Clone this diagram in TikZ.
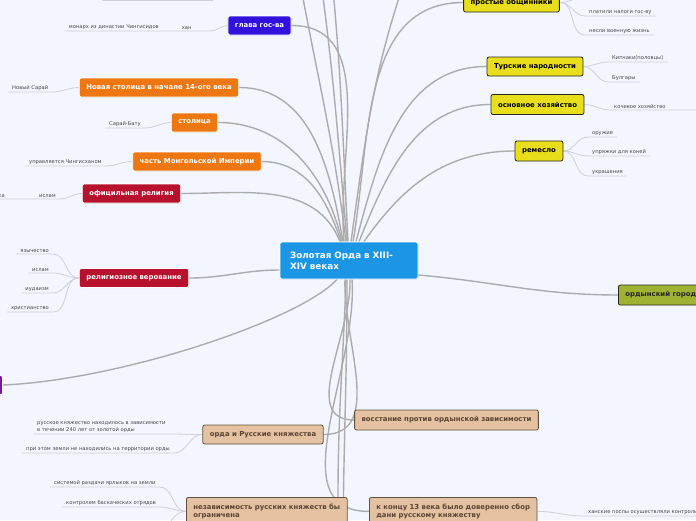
\documentclass[tikz,border=0pt]{standalone}
\usepackage{fontspec}
\setmainfont{DejaVu Sans}
\usetikzlibrary{shadows}

\definecolor{hintergrund}{RGB}{243,246,254}
\definecolor{kernblau}{RGB}{27,150,229}
\definecolor{violett}{RGB}{51,17,221}
\definecolor{orangeton}{RGB}{238,119,17}
\definecolor{karmin}{RGB}{183,17,45}
\definecolor{lila}{RGB}{120,20,160}
\definecolor{braunfill}{RGB}{228,193,160}
\definecolor{braunrand}{RGB}{95,80,65}
\definecolor{brauntext}{RGB}{90,68,52}
\definecolor{gelbfill}{RGB}{232,222,28}
\definecolor{gelbrand}{RGB}{40,40,30}
\definecolor{olivfill}{RGB}{160,178,50}
\definecolor{astgrau}{RGB}{172,172,172}
\definecolor{zweiggrau}{RGB}{205,208,216}
\definecolor{blatttext}{RGB}{70,70,70}

\pgfdeclarelayer{hinten}
\pgfsetlayers{hinten,main}

\begin{document}
\begin{tikzpicture}[x=1pt, y=1pt]

    % --- Grundeinstellungen für Styles ---
    \tikzset{
        thema/.style={rounded corners=2pt, minimum height=19pt, inner xsep=7pt, inner ysep=0pt, line width=0.8pt, font=\fontsize{6.9}{8.2}\selectfont\bfseries, align=center},
        hell/.style={thema, draw=white, text=white, drop shadow={opacity=0.18, shadow xshift=0.7pt, shadow yshift=-0.7pt}},
        wurzel/.style={hell, fill=kernblau, minimum height=37pt, text width=118pt, inner xsep=10pt, align=left, font=\fontsize{8.8}{11}\selectfont\bfseries},
        violettbox/.style={hell, fill=violett},
        orangebox/.style={hell, fill=orangeton},
        karminbox/.style={hell, fill=karmin},
        lilabox/.style={hell, fill=lila},
        braunbox/.style={thema, draw=braunrand, fill=braunfill, text=brauntext},
        gelbbox/.style={thema, draw=gelbrand, fill=gelbfill, text=black},
        olivbox/.style={thema, draw=gelbrand, fill=olivfill, text=black!85},
        blatt/.style={font=\fontsize{5.2}{6.3}\selectfont, text=blatttext, inner xsep=4pt, inner ysep=1.6pt, anchor=south west, align=left},
        ast/.style={draw=astgrau, line width=1.4pt},
        zweig/.style={draw=zweiggrau, line width=0.8pt}
    }

    \useasboundingbox (0,-520) rectangle (696,0);

    % --- 1. Zentrum ---
    \node[wurzel] (root) at (349,-260.5) {Золотая Орда в XIII-\\XIV веках};

    % --- 2. Linke Themen ---
    \node[violettbox] (glava) at (259.5,-25.5) {глава гос-ва};
    \node[orangebox] (novaya) at (159,-87.5) {Новая столица в начале 14-ого века};
    \node[orangebox] (stolica) at (194.5,-122.5) {столица};
    \node[orangebox] (chast) at (197,-161.5) {часть Монгольской Империи};
    \node[karminbox] (oficial) at (131.5,-193.5) {официльная религия};
    \node[karminbox] (verovanie) at (134,-278) {религиозное верование};
    \node[lilabox, anchor=east, minimum width=40pt] (lilaknoten) at (3,-385) {};

    % untere Themen (braun)
    \node[braunbox] (orda) at (263,-434.5) {орда и Русские княжества};
    \node[braunbox, anchor=north west, minimum height=28pt, align=left] (nezav) at (186,-497) {независимость русских княжеств бы\\ограничена};
    \node[braunbox, minimum height=20pt] (vosstanie) at (446.5,-420) {восстание против ордынской зависимости};
    \node[braunbox, anchor=north west, minimum height=28pt, align=left] (konec) at (369,-497) {к концу 13 века было доверенно сбор\\дани русскому княжеству};

    % --- 3. Rechte Themen ---
    \node[gelbbox] (obshch) at (511.5,-2.5) {простые общинники};
    \node[gelbbox] (tyurk) at (535,-66.5) {Турские народности};
    \node[gelbbox, minimum height=20pt] (hozyaystvo) at (537.5,-104.5) {основное хозяйство};
    \node[gelbbox, minimum height=20pt] (remeslo) at (539,-151) {ремесло};
    \node[olivbox, anchor=west, minimum height=20pt, minimum width=100pt, align=left] (gorod) at (618,-295) {ордынский город\hspace{24pt}};

    % --- 4. Blätter ---
    \node[blatt, minimum width=47pt, align=center] (khan) at (163,-31) {хан};
    \node[blatt, anchor=south east] (monarh) at (khan.south west) {монарх из династии Чингисидов};
    \node[blatt] (novsaray) at (8,-92) {Новый Сарай};
    \node[blatt] (saraybatu) at (105,-128) {Сарай-Бату};
    \node[blatt] (upravl) at (25,-166) {управляется Чингисханом};
    \node[blatt, anchor=south east] (islam1) at (60,-199) {ислам};
    \node[blatt, anchor=south east] (ka) at (9,-199) {ка};

    \node[blatt, anchor=south east] (yazych) at (53,-254) {язычество};
    \node[blatt, anchor=south east] (islam2) at (53,-273) {ислам};
    \node[blatt, anchor=south east] (iudaizm) at (53,-293) {иудаизм};
    \node[blatt, anchor=south east] (hristian) at (53,-312) {христианство};

    \node[blatt] (zavisim) at (33,-434) {русское княжество находилось в зависимости\\в течении 240 лет от золотой орды};
    \node[blatt] (zemli) at (22,-453) {при этом земли не находились на территории орды};
    \node[blatt] (yarlyki) at (50,-487) {системой раздачи ярлыков на земли};
    \node[blatt] (baskaki) at (62,-507) {контролем баскаческих отрядов};

    \node[blatt] (nalogi) at (585,-16) {платили налоги гос-ву};
    \node[blatt] (voennaya) at (585,-35) {несли военную жизнь};
    \node[blatt] (kipchaki) at (608,-62) {Кипчаки(половцы)};
    \node[blatt] (bulgary) at (608,-82) {Булгары};
    \node[blatt] (kochevoe) at (610,-110) {кочевое хозяйство};
    \node[blatt] (oruzhie) at (588,-137) {оружие};
    \node[blatt] (upryazhki) at (588,-156) {упряжки для коней};
    \node[blatt] (ukrasheniya) at (588,-176) {украшения};
    \node[blatt] (posly) at (584,-516) {ханские послы осуществляли контроль};

    % freie Enden ausserhalb des Bildes
    \coordinate (obenA) at (296,40);
    \coordinate (obenB) at (318,40);
    \coordinate (obenC) at (330,40);
    \coordinate (obenD) at (412,40);
    \coordinate (untenA) at (343,-560);
    \coordinate (untenB) at (150,-540);
    \coordinate (obshchOben) at (600,10);
    \coordinate (kochevEnde) at (710,-110);
    \coordinate (poslyEnde) at (710,-516);
    \coordinate (randLinks) at (-5,-199);
    \coordinate (streifA) at (213,-0.6);
    \coordinate (streifB) at (102,-0.6);

    % --- 5. Verbindungen (hinter den Knoten) ---
    \begin{pgfonlayer}{hinten}
        \fill[hintergrund] (0,-520) rectangle (696,0);

        % Äste nach oben links
        \draw[ast] ([xshift=-5pt]root.north) to[out=95, in=0] (glava.east);
        \draw[ast] ([xshift=-3pt]root.north) to[out=97, in=-80] (obenA);
        \draw[ast] ([xshift=-2pt]root.north) to[out=95, in=-82] (obenB);
        \draw[ast] ([xshift=-1pt]root.north) to[out=93, in=-84] (obenC);
        \draw[ast] ([xshift=-9pt]root.north) to[out=112, in=0] (oficial.east);
        \draw[ast] ([xshift=-8pt]root.north) to[out=108, in=0] (chast.east);
        \draw[ast] ([xshift=-7pt]root.north) to[out=103, in=0] (stolica.east);
        \draw[ast] ([xshift=-6pt]root.north) to[out=100, in=0] (novaya.east);

        % Äste nach oben rechts
        \draw[ast] ([xshift=2pt]root.north) to[out=82, in=-110] (obenD);
        \draw[ast] ([xshift=4pt]root.north) to[out=80, in=180] (obshch.west);
        \draw[ast] ([xshift=7pt]root.north) to[out=75, in=180] (tyurk.west);
        \draw[ast] ([xshift=10pt]root.north) to[out=68, in=180] (hozyaystvo.west);
        \draw[ast] ([xshift=15pt]root.north) to[out=55, in=180] (remeslo.west);

        % Äste seitlich
        \draw[ast] ([yshift=-9.5pt]root.west) to[out=180, in=0] (verovanie.east);
        \draw[ast] ([yshift=-14.5pt]root.east) to[out=-5, in=180] (gorod.west);
        \draw[ast] ([xshift=-12pt]root.south) .. controls (300,-320) and (120,-380) .. (lilaknoten.east);

        % Äste nach unten
        \draw[ast] ([xshift=-4pt]root.south) to[out=268, in=0] (orda.east);
        \draw[ast] ([xshift=-3pt]root.south) to[out=268, in=90] ([xshift=152pt]nezav.north west);
        \draw[ast] ([xshift=-2pt]root.south) to[out=270, in=90] (untenA);
        \draw[ast] ([xshift=1pt]root.south) to[out=272, in=180] (vosstanie.west);
        \draw[ast] ([xshift=3pt]root.south) to[out=274, in=180] (konec.west);

        % Zweige links
        \draw[zweig] (glava.west) to[out=180, in=0] (khan.south east) -- (khan.south west) -- (monarh.south west);
        \draw[zweig] (streifA) -- (streifB);
        \draw[zweig] (novaya.west) to[out=180, in=0] (novsaray.south east) -- (novsaray.south west);
        \draw[zweig] (stolica.west) to[out=180, in=0] (saraybatu.south east) -- (saraybatu.south west);
        \draw[zweig] (chast.west) to[out=180, in=0] (upravl.south east) -- (upravl.south west);
        \draw[zweig] (oficial.west) to[out=180, in=0] (islam1.south east) -- (islam1.south west) -- (ka.south east) -- (randLinks);
        \draw[zweig] (verovanie.west) to[out=180, in=0] (yazych.south east) -- (yazych.south west);
        \draw[zweig] (verovanie.west) to[out=180, in=0] (islam2.south east) -- (islam2.south west);
        \draw[zweig] (verovanie.west) to[out=180, in=0] (iudaizm.south east) -- (iudaizm.south west);
        \draw[zweig] (verovanie.west) to[out=180, in=0] (hristian.south east) -- (hristian.south west);
        \draw[zweig] (orda.west) to[out=180, in=0] (zavisim.south east) -- (zavisim.south west);
        \draw[zweig] (orda.west) to[out=180, in=0] (zemli.south east) -- (zemli.south west);
        \draw[zweig] (nezav.west) to[out=180, in=0] (yarlyki.south east) -- (yarlyki.south west);
        \draw[zweig] (nezav.west) to[out=180, in=0] (baskaki.south east) -- (baskaki.south west);
        \draw[zweig] (nezav.west) to[out=180, in=0] (untenB);

        % Zweige rechts
        \draw[zweig] (obshch.east) to[out=0, in=180] (obshchOben);
        \draw[zweig] (obshch.east) to[out=0, in=180] (nalogi.south west) -- (nalogi.south east);
        \draw[zweig] (obshch.east) to[out=0, in=180] (voennaya.south west) -- (voennaya.south east);
        \draw[zweig] (tyurk.east) to[out=0, in=180] (kipchaki.south west) -- (kipchaki.south east);
        \draw[zweig] (tyurk.east) to[out=0, in=180] (bulgary.south west) -- (bulgary.south east);
        \draw[zweig] (hozyaystvo.east) to[out=0, in=180] (kochevoe.south west) -- (kochevEnde);
        \draw[zweig] (remeslo.east) to[out=0, in=180] (oruzhie.south west) -- (oruzhie.south east);
        \draw[zweig] (remeslo.east) to[out=0, in=180] (upryazhki.south west) -- (upryazhki.south east);
        \draw[zweig] (remeslo.east) to[out=0, in=180] (ukrasheniya.south west) -- (ukrasheniya.south east);
        \draw[zweig] (konec.east) to[out=0, in=180] (posly.south west) -- (poslyEnde);
    \end{pgfonlayer}

\end{tikzpicture}
\end{document}
